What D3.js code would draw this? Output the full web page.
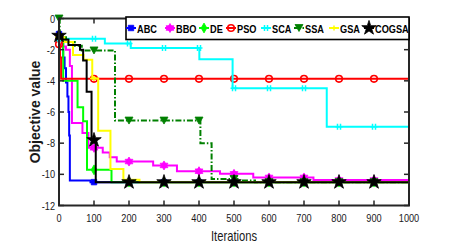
<!DOCTYPE html>
<html>
<head>
<meta charset="utf-8">
<script src="https://cdn.jsdelivr.net/npm/d3@7"></script>
<style>
  body { margin: 0; background: #fff; }
  svg text { font-family: "Liberation Sans", Arial, sans-serif; }
</style>
</head>
<body>
<div id="container"></div>
<script>
"use strict";

// convergence curves, step change points [iteration, value]
const names = ["ABC", "BBO", "DE", "PSO", "SCA", "SSA", "GSA", "COGSA"];
const colors = ["#0000ff", "#ff00ff", "#00ff00", "#ff0000", "#00ffff", "#008000", "#ffff00", "#000000"];

const abc = [[0, -1.0], [8, -1.6], [12, -2.5], [16, -3.2], [20, -4.1], [24, -5.0], [27, -6.0], [29, -7.5], [31, -10.4], [90, -10.5]];
const bbo = [[0, -1.2], [10, -1.8], [20, -2.0], [31, -3.05], [37, -6.7], [67, -7.35], [84, -8.3], [125, -8.6], [145, -8.9], [165, -9.18],
	[269, -9.43], [337, -9.8], [460, -9.97], [555, -10.2], [727, -10.36]];
const de = [[0, -1.3], [12, -4.0], [53, -5.7], [69, -6.6], [80, -9.71], [150, -10.5]];
const pso = [[0, -1.65], [3, -2.5], [6, -3.87]];
const sca = [[0, -1.3], [131, -1.6], [205, -1.9], [401, -2.62], [496, -4.47], [765, -6.94]];
const ssa = [[0, 0], [2, -1.2], [20, -1.5], [45, -1.75], [65, -2.05], [160, -6.55], [404, -8.0], [436, -10.3], [510, -10.4], [560, -10.5]];
const gsa = [[0, -1.2], [15, -1.5], [40, -2.35], [70, -2.65], [95, -3.85], [112, -7.2], [147, -9.65], [184, -10.35], [230, -10.5]];
const cogsa = [[0, -1.1], [10, -1.35], [27, -1.7], [60, -2.0], [69, -2.7], [79, -4.7], [93, -7.8], [105, -10.5]];

const series = [abc, bbo, de, pso, sca, ssa, gsa, cogsa];
const markerIters = [0, 100, 200, 300, 400, 500, 600, 700, 800, 900];
const xTicks = [0, 100, 200, 300, 400, 500, 600, 700, 800, 900, 1000];
const yTicks = [0, -2, -4, -6, -8, -10, -12];

const W = 452, H = 245;
const svg = d3.select("#container").append("svg")
	.attr("width", W).attr("height", H);

const x = d3.scaleLinear().domain([0, 1000]).range([59, 409]);
const y = d3.scaleLinear().domain([-12, 0]).range([205.5, 18.5]);

// no narrow font installed, so squeeze the regular one
const narrow = 0.8;
function narrowText(g, tx, ty, anchor, size, str) {
	return g.append("text")
		.attr("transform", `translate(${tx},${ty}) scale(${narrow},1)`)
		.attr("text-anchor", anchor)
		.attr("font-size", size)
		.attr("fill", "#1a1a1a")
		.text(str);
}

// value of the step curve at iteration it
function valueAt(pts, it) {
	let v = pts[0][1];
	pts.forEach(p => { if (p[0] <= it) v = p[1]; });
	return v;
}

// marker shapes
const hexagram = (() => {
	let p = "";
	for (let k = 0; k < 2; k++) {
		for (let j = 0; j < 3; j++) {
			const a = (k * 60 + j * 120 - 90) * Math.PI / 180;
			p += (j ? "L" : "M") + (4.5 * Math.cos(a)).toFixed(2) + "," + (4.5 * Math.sin(a)).toFixed(2);
		}
		p += "Z";
	}
	return p;
})();
const markers = [
	{ path: d3.symbol(d3.symbolSquare, 30)(), fill: true },
	{ path: hexagram, fill: true },
	{ path: d3.symbol(d3.symbolDiamond, 28)(), fill: true },
	{ circle: 3.3 },
	{ path: "M-3.5,0L3.5,0M-1.5,-3L-1.5,3M1.5,-3L1.5,3", fill: false },
	{ path: "M-4,-3.5L4,-3.5L0,3.5Z", fill: true },
	{ path: "M-4,0L4,0M0,-2.5L0,2.5", fill: false },
	{ path: d3.symbol(d3.symbolStar, 65)(), fill: true }
];

const line = d3.line()
	.x(d => x(d[0]))
	.y(d => y(d[1]))
	.curve(d3.curveStepAfter);

function drawMarker(g, i, cx, cy) {
	const m = markers[i];
	if (m.circle) {
		g.append("circle").attr("cx", cx).attr("cy", cy).attr("r", m.circle)
			.attr("fill", "none").attr("stroke", colors[i]).attr("stroke-width", 1.6);
	} else {
		g.append("path").attr("d", m.path)
			.attr("transform", `translate(${cx},${cy})`)
			.attr("fill", m.fill ? colors[i] : "none")
			.attr("stroke", colors[i])
			.attr("stroke-width", m.fill ? 0.8 : 1.5);
	}
}

// curves
const plot = svg.append("g");
series.forEach((pts, i) => {
	const full = pts.concat([[1000, pts[pts.length - 1][1]]]);
	plot.append("path")
		.attr("d", line(full))
		.attr("fill", "none")
		.attr("stroke", colors[i])
		.attr("stroke-width", 2)
		.attr("stroke-dasharray", names[i] === "SSA" ? "6,2,1.5,2" : null);
	markerIters.forEach(it => drawMarker(plot, i, x(it), y(valueAt(pts, it))));
});

// axes box with inward ticks
const axisColor = "#262626";
const box = svg.append("g");
box.append("rect")
	.attr("x", x(0)).attr("y", y(0))
	.attr("width", x(1000) - x(0)).attr("height", y(-12) - y(0))
	.attr("fill", "none").attr("stroke", axisColor).attr("stroke-width", 2);

xTicks.forEach(t => {
	box.append("line").attr("x1", x(t)).attr("x2", x(t))
		.attr("y1", y(-12)).attr("y2", y(-12) - 5)
		.attr("stroke", axisColor).attr("stroke-width", 1.5);
	box.append("line").attr("x1", x(t)).attr("x2", x(t))
		.attr("y1", y(0)).attr("y2", y(0) + 5)
		.attr("stroke", axisColor).attr("stroke-width", 1.5);
	narrowText(box, x(t), y(-12) + 16, "middle", 11.5, t);
});
yTicks.forEach(t => {
	box.append("line").attr("x1", x(0)).attr("x2", x(0) + 5)
		.attr("y1", y(t)).attr("y2", y(t))
		.attr("stroke", axisColor).attr("stroke-width", 1.5);
	box.append("line").attr("x1", x(1000)).attr("x2", x(1000) - 5)
		.attr("y1", y(t)).attr("y2", y(t))
		.attr("stroke", axisColor).attr("stroke-width", 1.5);
	narrowText(box, x(0) - 4, y(t) + 4, "end", 11.5, t);
});

// axis titles
narrowText(svg, (x(0) + x(1000)) / 2, 241, "middle", 14, "Iterations");
svg.append("text")
	.attr("transform", `translate(40,${(y(0) + y(-12)) / 2}) rotate(-90)`)
	.attr("text-anchor", "middle").attr("font-size", 14).attr("font-weight", "bold")
	.attr("fill", "#1a1a1a")
	.text("Objective value");

// legend
const legendText = [137, 176, 210, 237, 272, 305, 340, 375];
const legend = svg.append("g");
legend.append("rect")
	.attr("x", 126).attr("y", 17).attr("width", 283).attr("height", 22.5)
	.attr("fill", "#fff").attr("stroke", "#000").attr("stroke-width", 1.6);
names.forEach((n, i) => {
	const tx = legendText[i];
	legend.append("line").attr("x1", tx - 11).attr("x2", tx - 1).attr("y1", 28).attr("y2", 28)
		.attr("stroke", colors[i]).attr("stroke-width", 2)
		.attr("stroke-dasharray", n === "SSA" ? "4,1.5,1.5,1.5" : null);
	drawMarker(legend, i, tx - 6, 28);
	narrowText(legend, tx, 32.5, "start", 11.5, n)
		.attr("fill", "#000").attr("font-weight", "bold");
});
</script>
</body>
</html>
